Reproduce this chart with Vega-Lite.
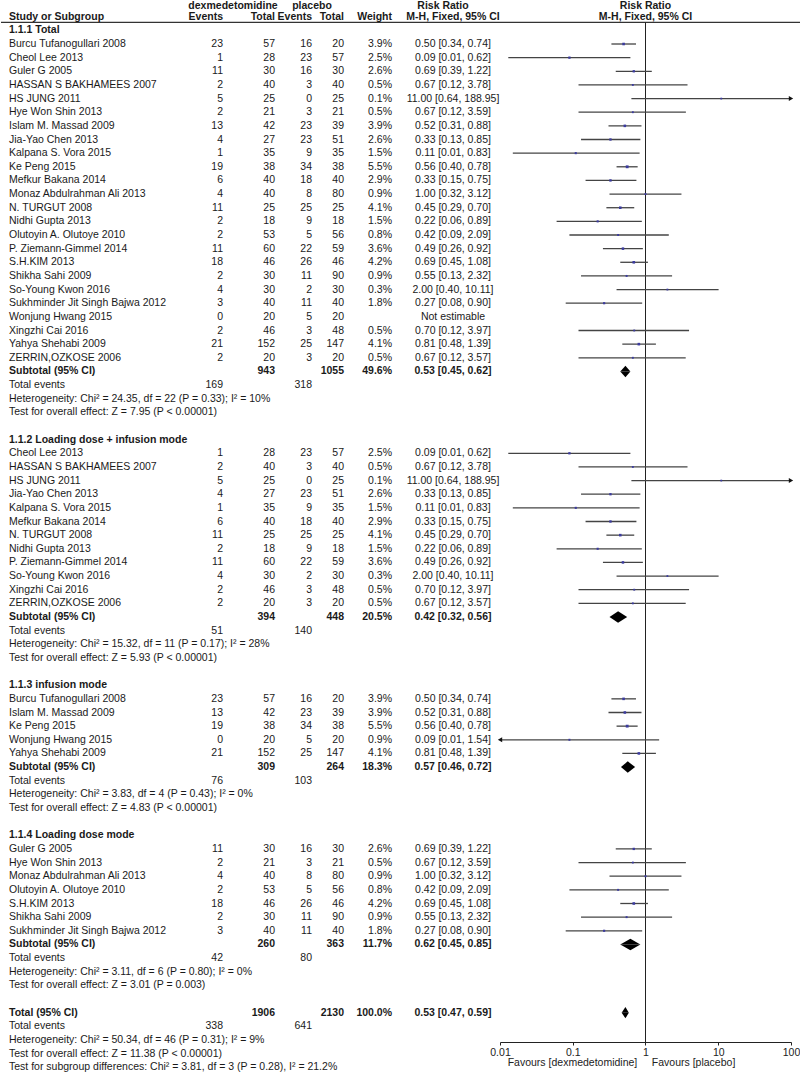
{
  "$schema": "https://vega.github.io/schema/vega-lite/v6.json",
  "padding": 0,
  "spacing": 0,
  "bounds": "flush",
  "config": {
    "view": {"stroke": null},
    "font": "Liberation Sans",
    "axis": {"grid": false, "domainColor": "#222222", "tickColor": "#222222", "tickSize": 3, "labelPadding": 2, "labelFontSize": 10.5, "labelColor": "#222222", "labelFont": "Liberation Sans", "labelFlush": false, "labelOverlap": false, "titleFontWeight": "normal", "titleFontSize": 10.5, "titleColor": "#222222", "titleFont": "Liberation Sans", "titleBaseline": "top", "titleAlign": "center", "domainWidth": 1, "tickWidth": 1}
  },
  "datasets": {
    "rows": [
      {"row": 0.2, "kind": "hdr1", "dex": "dexmedetomidine", "pla": "placebo", "rrh": "Risk Ratio"},
      {"row": 1.05, "kind": "hdr2", "label": "Study or Subgroup", "dE": "Events", "dT": "Total", "pE": "Events", "pT": "Total", "w": "Weight", "ci": "M-H, Fixed, 95% CI", "rrh": "M-H, Fixed, 95% CI"},
      {"row": 2, "kind": "section", "label": "1.1.1 Total"},
      {"row": 3, "kind": "study", "label": "Burcu Tufanogullari 2008", "dE": 23, "dT": 57, "pE": 16, "pT": 20, "w": "3.9%", "wt": 3.9, "ci": "0.50 [0.34, 0.74]", "rr": 0.5, "lo": 0.34, "hi": 0.74},
      {"row": 4, "kind": "study", "label": "Cheol Lee 2013", "dE": 1, "dT": 28, "pE": 23, "pT": 57, "w": "2.5%", "wt": 2.5, "ci": "0.09 [0.01, 0.62]", "rr": 0.09, "lo": 0.013, "hi": 0.62},
      {"row": 5, "kind": "study", "label": "Guler G 2005", "dE": 11, "dT": 30, "pE": 16, "pT": 30, "w": "2.6%", "wt": 2.6, "ci": "0.69 [0.39, 1.22]", "rr": 0.69, "lo": 0.39, "hi": 1.22},
      {"row": 6, "kind": "study", "label": "HASSAN S BAKHAMEES 2007", "dE": 2, "dT": 40, "pE": 3, "pT": 40, "w": "0.5%", "wt": 0.5, "ci": "0.67 [0.12, 3.78]", "rr": 0.67, "lo": 0.12, "hi": 3.78},
      {"row": 7, "kind": "study", "label": "HS JUNG 2011", "dE": 5, "dT": 25, "pE": 0, "pT": 25, "w": "0.1%", "wt": 0.1, "ci": "11.00 [0.64, 188.95]", "rr": 11, "lo": 0.64, "hi": 188.95},
      {"row": 8, "kind": "study", "label": "Hye Won Shin 2013", "dE": 2, "dT": 21, "pE": 3, "pT": 21, "w": "0.5%", "wt": 0.5, "ci": "0.67 [0.12, 3.59]", "rr": 0.67, "lo": 0.12, "hi": 3.59},
      {"row": 9, "kind": "study", "label": "Islam M. Massad 2009", "dE": 13, "dT": 42, "pE": 23, "pT": 39, "w": "3.9%", "wt": 3.9, "ci": "0.52 [0.31, 0.88]", "rr": 0.52, "lo": 0.31, "hi": 0.88},
      {"row": 10, "kind": "study", "label": "Jia-Yao Chen 2013", "dE": 4, "dT": 27, "pE": 23, "pT": 51, "w": "2.6%", "wt": 2.6, "ci": "0.33 [0.13, 0.85]", "rr": 0.33, "lo": 0.13, "hi": 0.85},
      {"row": 11, "kind": "study", "label": "Kalpana S. Vora 2015", "dE": 1, "dT": 35, "pE": 9, "pT": 35, "w": "1.5%", "wt": 1.5, "ci": "0.11 [0.01, 0.83]", "rr": 0.11, "lo": 0.015, "hi": 0.83},
      {"row": 12, "kind": "study", "label": "Ke Peng 2015", "dE": 19, "dT": 38, "pE": 34, "pT": 38, "w": "5.5%", "wt": 5.5, "ci": "0.56 [0.40, 0.78]", "rr": 0.56, "lo": 0.4, "hi": 0.78},
      {"row": 13, "kind": "study", "label": "Mefkur Bakana 2014", "dE": 6, "dT": 40, "pE": 18, "pT": 40, "w": "2.9%", "wt": 2.9, "ci": "0.33 [0.15, 0.75]", "rr": 0.33, "lo": 0.15, "hi": 0.75},
      {"row": 14, "kind": "study", "label": "Monaz Abdulrahman Ali 2013", "dE": 4, "dT": 40, "pE": 8, "pT": 80, "w": "0.9%", "wt": 0.9, "ci": "1.00 [0.32, 3.12]", "rr": 1.0, "lo": 0.32, "hi": 3.12},
      {"row": 15, "kind": "study", "label": "N. TURGUT 2008", "dE": 11, "dT": 25, "pE": 25, "pT": 25, "w": "4.1%", "wt": 4.1, "ci": "0.45 [0.29, 0.70]", "rr": 0.45, "lo": 0.29, "hi": 0.7},
      {"row": 16, "kind": "study", "label": "Nidhi Gupta 2013", "dE": 2, "dT": 18, "pE": 9, "pT": 18, "w": "1.5%", "wt": 1.5, "ci": "0.22 [0.06, 0.89]", "rr": 0.22, "lo": 0.06, "hi": 0.89},
      {"row": 17, "kind": "study", "label": "Olutoyin A. Olutoye 2010", "dE": 2, "dT": 53, "pE": 5, "pT": 56, "w": "0.8%", "wt": 0.8, "ci": "0.42 [0.09, 2.09]", "rr": 0.42, "lo": 0.09, "hi": 2.09},
      {"row": 18, "kind": "study", "label": "P. Ziemann-Gimmel 2014", "dE": 11, "dT": 60, "pE": 22, "pT": 59, "w": "3.6%", "wt": 3.6, "ci": "0.49 [0.26, 0.92]", "rr": 0.49, "lo": 0.26, "hi": 0.92},
      {"row": 19, "kind": "study", "label": "S.H.KIM 2013", "dE": 18, "dT": 46, "pE": 26, "pT": 46, "w": "4.2%", "wt": 4.2, "ci": "0.69 [0.45, 1.08]", "rr": 0.69, "lo": 0.45, "hi": 1.08},
      {"row": 20, "kind": "study", "label": "Shikha Sahi 2009", "dE": 2, "dT": 30, "pE": 11, "pT": 90, "w": "0.9%", "wt": 0.9, "ci": "0.55 [0.13, 2.32]", "rr": 0.55, "lo": 0.13, "hi": 2.32},
      {"row": 21, "kind": "study", "label": "So-Young Kwon 2016", "dE": 4, "dT": 30, "pE": 2, "pT": 30, "w": "0.3%", "wt": 0.3, "ci": "2.00 [0.40, 10.11]", "rr": 2.0, "lo": 0.4, "hi": 10.11},
      {"row": 22, "kind": "study", "label": "Sukhminder Jit Singh Bajwa 2012", "dE": 3, "dT": 40, "pE": 11, "pT": 40, "w": "1.8%", "wt": 1.8, "ci": "0.27 [0.08, 0.90]", "rr": 0.27, "lo": 0.08, "hi": 0.9},
      {"row": 23, "kind": "study", "label": "Wonjung Hwang 2015", "dE": 0, "dT": 20, "pE": 5, "pT": 20, "ci": "Not estimable"},
      {"row": 24, "kind": "study", "label": "Xingzhi Cai 2016", "dE": 2, "dT": 46, "pE": 3, "pT": 48, "w": "0.5%", "wt": 0.5, "ci": "0.70 [0.12, 3.97]", "rr": 0.7, "lo": 0.12, "hi": 3.97},
      {"row": 25, "kind": "study", "label": "Yahya Shehabi 2009", "dE": 21, "dT": 152, "pE": 25, "pT": 147, "w": "4.1%", "wt": 4.1, "ci": "0.81 [0.48, 1.39]", "rr": 0.81, "lo": 0.48, "hi": 1.39},
      {"row": 26, "kind": "study", "label": "ZERRIN,OZKOSE 2006", "dE": 2, "dT": 20, "pE": 3, "pT": 20, "w": "0.5%", "wt": 0.5, "ci": "0.67 [0.12, 3.57]", "rr": 0.67, "lo": 0.12, "hi": 3.57},
      {"row": 27, "kind": "subtotal", "label": "Subtotal (95% CI)", "dT": 943, "pT": 1055, "w": "49.6%", "ci": "0.53 [0.45, 0.62]", "rr": 0.53, "lo": 0.45, "hi": 0.62},
      {"row": 28, "kind": "events", "label": "Total events", "dE": 169, "pE": 318},
      {"row": 29, "kind": "note", "label": "Heterogeneity: Chi² = 24.35, df = 22 (P = 0.33); I² = 10%"},
      {"row": 30, "kind": "note", "label": "Test for overall effect: Z = 7.95 (P < 0.00001)"},
      {"row": 32, "kind": "section", "label": "1.1.2 Loading dose + infusion mode"},
      {"row": 33, "kind": "study", "label": "Cheol Lee 2013", "dE": 1, "dT": 28, "pE": 23, "pT": 57, "w": "2.5%", "wt": 2.5, "ci": "0.09 [0.01, 0.62]", "rr": 0.09, "lo": 0.013, "hi": 0.62},
      {"row": 34, "kind": "study", "label": "HASSAN S BAKHAMEES 2007", "dE": 2, "dT": 40, "pE": 3, "pT": 40, "w": "0.5%", "wt": 0.5, "ci": "0.67 [0.12, 3.78]", "rr": 0.67, "lo": 0.12, "hi": 3.78},
      {"row": 35, "kind": "study", "label": "HS JUNG 2011", "dE": 5, "dT": 25, "pE": 0, "pT": 25, "w": "0.1%", "wt": 0.1, "ci": "11.00 [0.64, 188.95]", "rr": 11, "lo": 0.64, "hi": 188.95},
      {"row": 36, "kind": "study", "label": "Jia-Yao Chen 2013", "dE": 4, "dT": 27, "pE": 23, "pT": 51, "w": "2.6%", "wt": 2.6, "ci": "0.33 [0.13, 0.85]", "rr": 0.33, "lo": 0.13, "hi": 0.85},
      {"row": 37, "kind": "study", "label": "Kalpana S. Vora 2015", "dE": 1, "dT": 35, "pE": 9, "pT": 35, "w": "1.5%", "wt": 1.5, "ci": "0.11 [0.01, 0.83]", "rr": 0.11, "lo": 0.015, "hi": 0.83},
      {"row": 38, "kind": "study", "label": "Mefkur Bakana 2014", "dE": 6, "dT": 40, "pE": 18, "pT": 40, "w": "2.9%", "wt": 2.9, "ci": "0.33 [0.15, 0.75]", "rr": 0.33, "lo": 0.15, "hi": 0.75},
      {"row": 39, "kind": "study", "label": "N. TURGUT 2008", "dE": 11, "dT": 25, "pE": 25, "pT": 25, "w": "4.1%", "wt": 4.1, "ci": "0.45 [0.29, 0.70]", "rr": 0.45, "lo": 0.29, "hi": 0.7},
      {"row": 40, "kind": "study", "label": "Nidhi Gupta 2013", "dE": 2, "dT": 18, "pE": 9, "pT": 18, "w": "1.5%", "wt": 1.5, "ci": "0.22 [0.06, 0.89]", "rr": 0.22, "lo": 0.06, "hi": 0.89},
      {"row": 41, "kind": "study", "label": "P. Ziemann-Gimmel 2014", "dE": 11, "dT": 60, "pE": 22, "pT": 59, "w": "3.6%", "wt": 3.6, "ci": "0.49 [0.26, 0.92]", "rr": 0.49, "lo": 0.26, "hi": 0.92},
      {"row": 42, "kind": "study", "label": "So-Young Kwon 2016", "dE": 4, "dT": 30, "pE": 2, "pT": 30, "w": "0.3%", "wt": 0.3, "ci": "2.00 [0.40, 10.11]", "rr": 2.0, "lo": 0.4, "hi": 10.11},
      {"row": 43, "kind": "study", "label": "Xingzhi Cai 2016", "dE": 2, "dT": 46, "pE": 3, "pT": 48, "w": "0.5%", "wt": 0.5, "ci": "0.70 [0.12, 3.97]", "rr": 0.7, "lo": 0.12, "hi": 3.97},
      {"row": 44, "kind": "study", "label": "ZERRIN,OZKOSE 2006", "dE": 2, "dT": 20, "pE": 3, "pT": 20, "w": "0.5%", "wt": 0.5, "ci": "0.67 [0.12, 3.57]", "rr": 0.67, "lo": 0.12, "hi": 3.57},
      {"row": 45, "kind": "subtotal", "label": "Subtotal (95% CI)", "dT": 394, "pT": 448, "w": "20.5%", "ci": "0.42 [0.32, 0.56]", "rr": 0.42, "lo": 0.32, "hi": 0.56},
      {"row": 46, "kind": "events", "label": "Total events", "dE": 51, "pE": 140},
      {"row": 47, "kind": "note", "label": "Heterogeneity: Chi² = 15.32, df = 11 (P = 0.17); I² = 28%"},
      {"row": 48, "kind": "note", "label": "Test for overall effect: Z = 5.93 (P < 0.00001)"},
      {"row": 50, "kind": "section", "label": "1.1.3 infusion mode"},
      {"row": 51, "kind": "study", "label": "Burcu Tufanogullari 2008", "dE": 23, "dT": 57, "pE": 16, "pT": 20, "w": "3.9%", "wt": 3.9, "ci": "0.50 [0.34, 0.74]", "rr": 0.5, "lo": 0.34, "hi": 0.74},
      {"row": 52, "kind": "study", "label": "Islam M. Massad 2009", "dE": 13, "dT": 42, "pE": 23, "pT": 39, "w": "3.9%", "wt": 3.9, "ci": "0.52 [0.31, 0.88]", "rr": 0.52, "lo": 0.31, "hi": 0.88},
      {"row": 53, "kind": "study", "label": "Ke Peng 2015", "dE": 19, "dT": 38, "pE": 34, "pT": 38, "w": "5.5%", "wt": 5.5, "ci": "0.56 [0.40, 0.78]", "rr": 0.56, "lo": 0.4, "hi": 0.78},
      {"row": 54, "kind": "study", "label": "Wonjung Hwang 2015", "dE": 0, "dT": 20, "pE": 5, "pT": 20, "w": "0.9%", "wt": 0.9, "ci": "0.09 [0.01, 1.54]", "rr": 0.09, "lo": 0.005, "hi": 1.54},
      {"row": 55, "kind": "study", "label": "Yahya Shehabi 2009", "dE": 21, "dT": 152, "pE": 25, "pT": 147, "w": "4.1%", "wt": 4.1, "ci": "0.81 [0.48, 1.39]", "rr": 0.81, "lo": 0.48, "hi": 1.39},
      {"row": 56, "kind": "subtotal", "label": "Subtotal (95% CI)", "dT": 309, "pT": 264, "w": "18.3%", "ci": "0.57 [0.46, 0.72]", "rr": 0.57, "lo": 0.46, "hi": 0.72},
      {"row": 57, "kind": "events", "label": "Total events", "dE": 76, "pE": 103},
      {"row": 58, "kind": "note", "label": "Heterogeneity: Chi² = 3.83, df = 4 (P = 0.43); I² = 0%"},
      {"row": 59, "kind": "note", "label": "Test for overall effect: Z = 4.83 (P < 0.00001)"},
      {"row": 61, "kind": "section", "label": "1.1.4 Loading dose mode"},
      {"row": 62, "kind": "study", "label": "Guler G 2005", "dE": 11, "dT": 30, "pE": 16, "pT": 30, "w": "2.6%", "wt": 2.6, "ci": "0.69 [0.39, 1.22]", "rr": 0.69, "lo": 0.39, "hi": 1.22},
      {"row": 63, "kind": "study", "label": "Hye Won Shin 2013", "dE": 2, "dT": 21, "pE": 3, "pT": 21, "w": "0.5%", "wt": 0.5, "ci": "0.67 [0.12, 3.59]", "rr": 0.67, "lo": 0.12, "hi": 3.59},
      {"row": 64, "kind": "study", "label": "Monaz Abdulrahman Ali 2013", "dE": 4, "dT": 40, "pE": 8, "pT": 80, "w": "0.9%", "wt": 0.9, "ci": "1.00 [0.32, 3.12]", "rr": 1.0, "lo": 0.32, "hi": 3.12},
      {"row": 65, "kind": "study", "label": "Olutoyin A. Olutoye 2010", "dE": 2, "dT": 53, "pE": 5, "pT": 56, "w": "0.8%", "wt": 0.8, "ci": "0.42 [0.09, 2.09]", "rr": 0.42, "lo": 0.09, "hi": 2.09},
      {"row": 66, "kind": "study", "label": "S.H.KIM 2013", "dE": 18, "dT": 46, "pE": 26, "pT": 46, "w": "4.2%", "wt": 4.2, "ci": "0.69 [0.45, 1.08]", "rr": 0.69, "lo": 0.45, "hi": 1.08},
      {"row": 67, "kind": "study", "label": "Shikha Sahi 2009", "dE": 2, "dT": 30, "pE": 11, "pT": 90, "w": "0.9%", "wt": 0.9, "ci": "0.55 [0.13, 2.32]", "rr": 0.55, "lo": 0.13, "hi": 2.32},
      {"row": 68, "kind": "study", "label": "Sukhminder Jit Singh Bajwa 2012", "dE": 3, "dT": 40, "pE": 11, "pT": 40, "w": "1.8%", "wt": 1.8, "ci": "0.27 [0.08, 0.90]", "rr": 0.27, "lo": 0.08, "hi": 0.9},
      {"row": 69, "kind": "subtotal", "label": "Subtotal (95% CI)", "dT": 260, "pT": 363, "w": "11.7%", "ci": "0.62 [0.45, 0.85]", "rr": 0.62, "lo": 0.45, "hi": 0.85},
      {"row": 70, "kind": "events", "label": "Total events", "dE": 42, "pE": 80},
      {"row": 71, "kind": "note", "label": "Heterogeneity: Chi² = 3.11, df = 6 (P = 0.80); I² = 0%"},
      {"row": 72, "kind": "note", "label": "Test for overall effect: Z = 3.01 (P = 0.003)"},
      {"row": 74, "kind": "total", "label": "Total (95% CI)", "dT": 1906, "pT": 2130, "w": "100.0%", "ci": "0.53 [0.47, 0.59]", "rr": 0.53, "lo": 0.47, "hi": 0.59},
      {"row": 75, "kind": "events", "label": "Total events", "dE": 338, "pE": 641},
      {"row": 76, "kind": "note", "label": "Heterogeneity: Chi² = 50.34, df = 46 (P = 0.31); I² = 9%"},
      {"row": 77, "kind": "note", "label": "Test for overall effect: Z = 11.38 (P < 0.00001)"},
      {"row": 78, "kind": "note", "label": "Test for subgroup differences: Chi² = 3.81, df = 3 (P = 0.28), I² = 21.2%"}
    ]
  },
  "hconcat": [
    {
      "width": 499,
      "height": 1076,
      "data": {"name": "rows"},
      "encoding": {
        "y": {"field": "row", "type": "quantitative", "scale": {"domain": [-0.152, 78.717], "reverse": true, "nice": false, "zero": false}, "axis": null}
      },
      "layer": [
        {
          "transform": [{"filter": "datum.kind === 'hdr2'"}],
          "mark": {"type": "rule", "color": "#333333", "strokeWidth": 1.2},
          "encoding": {"y": {"datum": 1.42, "type": "quantitative", "axis": null}}
        },
        {
          "transform": [{"filter": "isValid(datum.label) && indexof(['hdr2','section','subtotal','total'], datum.kind) < 0"}],
          "mark": {"type": "text", "align": "left", "baseline": "middle", "fontSize": 10.5, "color": "#1a1a1a"},
          "encoding": {"x": {"datum": 8, "type": "quantitative", "scale": {"domain": [0, 499], "nice": false, "zero": false}, "axis": null}, "text": {"field": "label", "type": "nominal"}}
        },
        {
          "transform": [{"filter": "isValid(datum.label) && indexof(['hdr2','section','subtotal','total'], datum.kind) >= 0"}],
          "mark": {"type": "text", "align": "left", "baseline": "middle", "fontSize": 10.5, "fontWeight": "bold", "color": "#1a1a1a"},
          "encoding": {"x": {"datum": 8, "type": "quantitative", "axis": null}, "text": {"field": "label", "type": "nominal"}}
        },
        {
          "transform": [{"filter": "isValid(datum.dE) && indexof(['hdr2','section','subtotal','total'], datum.kind) < 0"}],
          "mark": {"type": "text", "align": "right", "baseline": "middle", "fontSize": 10.5, "color": "#1a1a1a"},
          "encoding": {"x": {"datum": 222, "type": "quantitative", "axis": null}, "text": {"field": "dE", "type": "nominal"}}
        },
        {
          "transform": [{"filter": "isValid(datum.dE) && indexof(['hdr2','section','subtotal','total'], datum.kind) >= 0"}],
          "mark": {"type": "text", "align": "right", "baseline": "middle", "fontSize": 10.5, "fontWeight": "bold", "color": "#1a1a1a"},
          "encoding": {"x": {"datum": 222, "type": "quantitative", "axis": null}, "text": {"field": "dE", "type": "nominal"}}
        },
        {
          "transform": [{"filter": "isValid(datum.dT) && indexof(['hdr2','section','subtotal','total'], datum.kind) < 0"}],
          "mark": {"type": "text", "align": "right", "baseline": "middle", "fontSize": 10.5, "color": "#1a1a1a"},
          "encoding": {"x": {"datum": 274, "type": "quantitative", "axis": null}, "text": {"field": "dT", "type": "nominal"}}
        },
        {
          "transform": [{"filter": "isValid(datum.dT) && indexof(['hdr2','section','subtotal','total'], datum.kind) >= 0"}],
          "mark": {"type": "text", "align": "right", "baseline": "middle", "fontSize": 10.5, "fontWeight": "bold", "color": "#1a1a1a"},
          "encoding": {"x": {"datum": 274, "type": "quantitative", "axis": null}, "text": {"field": "dT", "type": "nominal"}}
        },
        {
          "transform": [{"filter": "isValid(datum.pE) && indexof(['hdr2','section','subtotal','total'], datum.kind) < 0"}],
          "mark": {"type": "text", "align": "right", "baseline": "middle", "fontSize": 10.5, "color": "#1a1a1a"},
          "encoding": {"x": {"datum": 311, "type": "quantitative", "axis": null}, "text": {"field": "pE", "type": "nominal"}}
        },
        {
          "transform": [{"filter": "isValid(datum.pE) && indexof(['hdr2','section','subtotal','total'], datum.kind) >= 0"}],
          "mark": {"type": "text", "align": "right", "baseline": "middle", "fontSize": 10.5, "fontWeight": "bold", "color": "#1a1a1a"},
          "encoding": {"x": {"datum": 311, "type": "quantitative", "axis": null}, "text": {"field": "pE", "type": "nominal"}}
        },
        {
          "transform": [{"filter": "isValid(datum.pT) && indexof(['hdr2','section','subtotal','total'], datum.kind) < 0"}],
          "mark": {"type": "text", "align": "right", "baseline": "middle", "fontSize": 10.5, "color": "#1a1a1a"},
          "encoding": {"x": {"datum": 343, "type": "quantitative", "axis": null}, "text": {"field": "pT", "type": "nominal"}}
        },
        {
          "transform": [{"filter": "isValid(datum.pT) && indexof(['hdr2','section','subtotal','total'], datum.kind) >= 0"}],
          "mark": {"type": "text", "align": "right", "baseline": "middle", "fontSize": 10.5, "fontWeight": "bold", "color": "#1a1a1a"},
          "encoding": {"x": {"datum": 343, "type": "quantitative", "axis": null}, "text": {"field": "pT", "type": "nominal"}}
        },
        {
          "transform": [{"filter": "isValid(datum.w) && indexof(['hdr2','section','subtotal','total'], datum.kind) < 0"}],
          "mark": {"type": "text", "align": "right", "baseline": "middle", "fontSize": 10.5, "color": "#1a1a1a"},
          "encoding": {"x": {"datum": 391, "type": "quantitative", "axis": null}, "text": {"field": "w", "type": "nominal"}}
        },
        {
          "transform": [{"filter": "isValid(datum.w) && indexof(['hdr2','section','subtotal','total'], datum.kind) >= 0"}],
          "mark": {"type": "text", "align": "right", "baseline": "middle", "fontSize": 10.5, "fontWeight": "bold", "color": "#1a1a1a"},
          "encoding": {"x": {"datum": 391, "type": "quantitative", "axis": null}, "text": {"field": "w", "type": "nominal"}}
        },
        {
          "transform": [{"filter": "isValid(datum.ci) && indexof(['hdr2','section','subtotal','total'], datum.kind) < 0"}],
          "mark": {"type": "text", "align": "center", "baseline": "middle", "fontSize": 10.5, "color": "#1a1a1a"},
          "encoding": {"x": {"datum": 452, "type": "quantitative", "axis": null}, "text": {"field": "ci", "type": "nominal"}}
        },
        {
          "transform": [{"filter": "isValid(datum.ci) && indexof(['hdr2','section','subtotal','total'], datum.kind) >= 0"}],
          "mark": {"type": "text", "align": "center", "baseline": "middle", "fontSize": 10.5, "fontWeight": "bold", "color": "#1a1a1a"},
          "encoding": {"x": {"datum": 452, "type": "quantitative", "axis": null}, "text": {"field": "ci", "type": "nominal"}}
        },
        {
          "transform": [{"filter": "datum.kind === 'hdr1'"}],
          "mark": {"type": "text", "align": "center", "baseline": "middle", "fontSize": 10.5, "fontWeight": "bold", "color": "#1a1a1a"},
          "encoding": {"x": {"datum": 232, "type": "quantitative", "axis": null}, "text": {"field": "dex", "type": "nominal"}}
        },
        {
          "transform": [{"filter": "datum.kind === 'hdr1'"}],
          "mark": {"type": "text", "align": "center", "baseline": "middle", "fontSize": 10.5, "fontWeight": "bold", "color": "#1a1a1a"},
          "encoding": {"x": {"datum": 311, "type": "quantitative", "axis": null}, "text": {"field": "pla", "type": "nominal"}}
        },
        {
          "transform": [{"filter": "datum.kind === 'hdr1'"}],
          "mark": {"type": "text", "align": "center", "baseline": "middle", "fontSize": 10.5, "fontWeight": "bold", "color": "#1a1a1a"},
          "encoding": {"x": {"datum": 442, "type": "quantitative", "axis": null}, "text": {"field": "rrh", "type": "nominal"}}
        }
      ]
    },
    {
      "width": 291,
      "height": 1041,
      "data": {"name": "rows"},
      "resolve": {"scale": {"y": "independent", "yOffset": "independent"}},
      "layer": [
        {
          "transform": [{"filter": "datum.kind === 'hdr2'"}],
          "mark": {"type": "rule", "color": "#333333", "strokeWidth": 1.2},
          "encoding": {
            "x": {"datum": 0.01, "type": "quantitative", "scale": {"type": "log", "domain": [0.01, 100], "nice": false}, "axis": {"values": [0.01, 0.1, 1, 10, 100], "labelExpr": "'' + datum.value", "title": "Favours [dexmedetomidine]\u00a0\u00a0\u00a0\u00a0\u00a0Favours [placebo]", "titleX": 121, "titleY": 15}},
            "x2": {"datum": 140},
            "y": {"datum": 1.42, "type": "quantitative", "scale": {"domain": [-0.152, 76.152], "reverse": true, "nice": false, "zero": false}, "axis": null}
          }
        },
        {
          "transform": [{"filter": "datum.kind === 'hdr2'"}],
          "mark": {"type": "rule", "color": "#222222", "strokeWidth": 1},
          "encoding": {
            "x": {"datum": 1, "type": "quantitative", "scale": {"type": "log", "domain": [0.01, 100], "nice": false}, "axis": {"values": [0.01, 0.1, 1, 10, 100], "labelExpr": "'' + datum.value", "title": "Favours [dexmedetomidine]\u00a0\u00a0\u00a0\u00a0\u00a0Favours [placebo]", "titleX": 121, "titleY": 15}},
            "y": {"datum": 1.42, "type": "quantitative", "scale": {"domain": [-0.152, 76.152], "reverse": true, "nice": false, "zero": false}, "axis": null},
            "y2": {"datum": 76.152}
          }
        },
        {
          "transform": [{"filter": "isValid(datum.rrh)"}],
          "mark": {"type": "text", "align": "center", "baseline": "middle", "fontSize": 10.5, "fontWeight": "bold", "color": "#1a1a1a"},
          "encoding": {
            "x": {"datum": 1, "type": "quantitative", "scale": {"type": "log", "domain": [0.01, 100], "nice": false}, "axis": {"values": [0.01, 0.1, 1, 10, 100], "labelExpr": "'' + datum.value", "title": "Favours [dexmedetomidine]\u00a0\u00a0\u00a0\u00a0\u00a0Favours [placebo]", "titleX": 121, "titleY": 15}},
            "y": {"field": "row", "type": "quantitative", "scale": {"domain": [-0.152, 76.152], "reverse": true, "nice": false, "zero": false}, "axis": null},
            "text": {"field": "rrh", "type": "nominal"}
          }
        },
        {
          "transform": [{"filter": "datum.kind === 'study' && isValid(datum.rr)"}],
          "mark": {"type": "rule", "color": "#444444", "strokeWidth": 1.3, "clip": true},
          "encoding": {
            "x": {"field": "lo", "type": "quantitative", "scale": {"type": "log", "domain": [0.01, 100], "nice": false}, "axis": {"values": [0.01, 0.1, 1, 10, 100], "labelExpr": "'' + datum.value", "title": "Favours [dexmedetomidine]\u00a0\u00a0\u00a0\u00a0\u00a0Favours [placebo]", "titleX": 121, "titleY": 15}},
            "x2": {"field": "hi"},
            "y": {"field": "row", "type": "quantitative", "scale": {"domain": [-0.152, 76.152], "reverse": true, "nice": false, "zero": false}, "axis": null}
          }
        },
        {
          "transform": [{"filter": "datum.kind === 'study' && isValid(datum.rr)"}],
          "mark": {"type": "point", "shape": "square", "filled": true, "color": "#3b3b9e", "opacity": 1},
          "encoding": {
            "x": {"field": "rr", "type": "quantitative", "scale": {"type": "log", "domain": [0.01, 100], "nice": false}, "axis": {"values": [0.01, 0.1, 1, 10, 100], "labelExpr": "'' + datum.value", "title": "Favours [dexmedetomidine]\u00a0\u00a0\u00a0\u00a0\u00a0Favours [placebo]", "titleX": 121, "titleY": 15}},
            "y": {"field": "row", "type": "quantitative", "scale": {"domain": [-0.152, 76.152], "reverse": true, "nice": false, "zero": false}, "axis": null},
            "size": {"field": "wt", "type": "quantitative", "scale": {"domain": [0, 5.5], "range": [3, 8]}, "legend": null}
          }
        },
        {
          "transform": [{"filter": "datum.kind === 'study' && datum.hi > 100"}],
          "mark": {"type": "point", "shape": "triangle-right", "filled": true, "color": "#111111", "opacity": 1, "size": 25},
          "encoding": {
            "x": {"datum": 100, "type": "quantitative", "scale": {"type": "log", "domain": [0.01, 100], "nice": false}, "axis": {"values": [0.01, 0.1, 1, 10, 100], "labelExpr": "'' + datum.value", "title": "Favours [dexmedetomidine]\u00a0\u00a0\u00a0\u00a0\u00a0Favours [placebo]", "titleX": 121, "titleY": 15}},
            "y": {"field": "row", "type": "quantitative", "scale": {"domain": [-0.152, 76.152], "reverse": true, "nice": false, "zero": false}, "axis": null}
          }
        },
        {
          "transform": [{"filter": "datum.kind === 'study' && datum.lo < 0.01"}],
          "mark": {"type": "point", "shape": "triangle-left", "filled": true, "color": "#111111", "opacity": 1, "size": 25},
          "encoding": {
            "x": {"datum": 0.01, "type": "quantitative", "scale": {"type": "log", "domain": [0.01, 100], "nice": false}, "axis": {"values": [0.01, 0.1, 1, 10, 100], "labelExpr": "'' + datum.value", "title": "Favours [dexmedetomidine]\u00a0\u00a0\u00a0\u00a0\u00a0Favours [placebo]", "titleX": 121, "titleY": 15}},
            "y": {"field": "row", "type": "quantitative", "scale": {"domain": [-0.152, 76.152], "reverse": true, "nice": false, "zero": false}, "axis": null}
          }
        },
        {
          "transform": [
            {"filter": "datum.kind === 'subtotal' || datum.kind === 'total'"},
            {"fold": ["lo", "rr", "hi"], "as": ["k", "xv"]},
            {"window": [{"op": "count", "as": "nb"}], "groupby": ["row"], "sort": [{"field": "xv", "order": "ascending"}], "frame": [-1, 1]}
          ],
          "mark": {"type": "area", "color": "#000000", "orient": "vertical", "opacity": 1},
          "encoding": {
            "x": {"field": "xv", "type": "quantitative", "stack": null, "scale": {"type": "log", "domain": [0.01, 100], "nice": false}, "axis": {"values": [0.01, 0.1, 1, 10, 100], "labelExpr": "'' + datum.value", "title": "Favours [dexmedetomidine]\u00a0\u00a0\u00a0\u00a0\u00a0Favours [placebo]", "titleX": 121, "titleY": 15}},
            "y": {"field": "row", "type": "ordinal", "scale": {"type": "point", "domain": [0,1,2,3,4,5,6,7,8,9,10,11,12,13,14,15,16,17,18,19,20,21,22,23,24,25,26,27,28,29,30,31,32,33,34,35,36,37,38,39,40,41,42,43,44,45,46,47,48,49,50,51,52,53,54,55,56,57,58,59,60,61,62,63,64,65,66,67,68,69,70,71,72,73,74,75,76], "padding": 0.152}, "axis": null},
            "y2": {"field": "row"},
            "yOffset": {"field": "nb", "type": "quantitative", "scale": {"domain": [2, 3], "range": [0, -5.7]}},
            "detail": {"field": "row", "type": "nominal"}
          }
        },
        {
          "transform": [
            {"filter": "datum.kind === 'subtotal' || datum.kind === 'total'"},
            {"fold": ["lo", "rr", "hi"], "as": ["k", "xv"]},
            {"window": [{"op": "count", "as": "nb"}], "groupby": ["row"], "sort": [{"field": "xv", "order": "ascending"}], "frame": [-1, 1]}
          ],
          "mark": {"type": "area", "color": "#000000", "orient": "vertical", "opacity": 1},
          "encoding": {
            "x": {"field": "xv", "type": "quantitative", "stack": null, "scale": {"type": "log", "domain": [0.01, 100], "nice": false}, "axis": {"values": [0.01, 0.1, 1, 10, 100], "labelExpr": "'' + datum.value", "title": "Favours [dexmedetomidine]\u00a0\u00a0\u00a0\u00a0\u00a0Favours [placebo]", "titleX": 121, "titleY": 15}},
            "y": {"field": "row", "type": "ordinal", "scale": {"type": "point", "domain": [0,1,2,3,4,5,6,7,8,9,10,11,12,13,14,15,16,17,18,19,20,21,22,23,24,25,26,27,28,29,30,31,32,33,34,35,36,37,38,39,40,41,42,43,44,45,46,47,48,49,50,51,52,53,54,55,56,57,58,59,60,61,62,63,64,65,66,67,68,69,70,71,72,73,74,75,76], "padding": 0.152}, "axis": null},
            "y2": {"field": "row"},
            "yOffset": {"field": "nb", "type": "quantitative", "scale": {"domain": [2, 3], "range": [0, 5.7]}},
            "detail": {"field": "row", "type": "nominal"}
          }
        }
      ]
    }
  ]
}
